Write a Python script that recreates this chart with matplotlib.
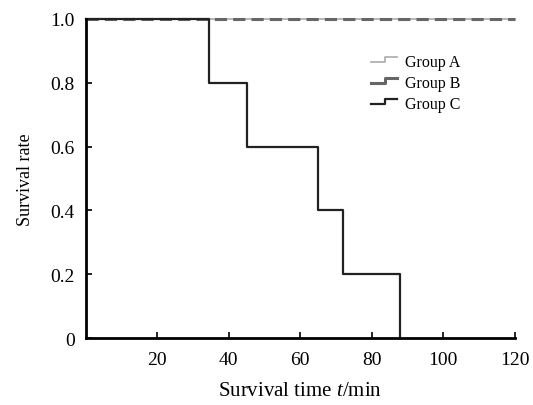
import matplotlib
matplotlib.use("Agg")
import matplotlib.pyplot as plt
from matplotlib.legend_handler import HandlerLine2D
from matplotlib.lines import Line2D

plt.rcParams['font.family'] = ['Liberation Serif', 'DejaVu Serif']
plt.rcParams['mathtext.fontset'] = 'custom'
plt.rcParams['mathtext.it'] = 'Liberation Serif:italic'
plt.rcParams['mathtext.rm'] = 'Liberation Serif'

groups = ["Group A", "Group B", "Group C"]
time_a = [0, 120]
surv_a = [1.0, 1.0]
time_b = [0, 120]
surv_b = [1.0, 1.0]
time_c = [0, 34.5, 45, 65, 72, 88]
surv_c = [1.0, 0.8, 0.6, 0.4, 0.2, 0.0]

xticks = [20, 40, 60, 80, 100, 120]
yticks = [0, 0.2, 0.4, 0.6, 0.8, 1.0]
ytick_labels = ["0", "0.2", "0.4", "0.6", "0.8", "1.0"]


class StepHandler(HandlerLine2D):
    def create_artists(self, legend, orig_handle, xdescent, ydescent,
                       width, height, fontsize, trans):
        y0 = height / 2 - ydescent - height * 0.15
        y1 = y0 + height * 0.45
        xs = [-xdescent, -xdescent + width * 0.55, -xdescent + width * 0.55, -xdescent + width]
        ys = [y0, y0, y1, y1]
        ln = Line2D(xs, ys)
        self.update_prop(ln, orig_handle, legend)
        ln.set_linestyle('-')
        ln.set_transform(trans)
        return [ln]


fig = plt.figure(figsize=(5.33, 4.06), dpi=100)
ax = fig.add_axes([0.161, 0.165, 0.805, 0.786])

la, = ax.step(time_a, surv_a, where='post', color='#aaaaaa', lw=1.2, label=groups[0], clip_on=False)
lb, = ax.step(time_b, surv_b, where='post', color='#666666', lw=2.2, ls=(0, (4, 2)), label=groups[1], clip_on=False)
lc, = ax.step(time_c, surv_c, where='post', color='#222222', lw=1.6, label=groups[2], clip_on=False)

ax.set_xlim(0, 120)
ax.set_ylim(0, 1.0)
ax.set_xticks(xticks)
ax.set_yticks(yticks)
ax.set_yticklabels(ytick_labels)
ax.tick_params(direction='in', length=4, width=1.2, labelsize=14, pad=8)
ax.tick_params(axis='x', pad=9)
for s in ['top', 'right']:
    ax.spines[s].set_visible(False)
for s in ['left', 'bottom']:
    ax.spines[s].set_linewidth(2)

ax.set_xlabel(r"Survival time $\mathit{t}$/min", fontsize=15, labelpad=10)
ax.set_ylabel("Survival rate", fontsize=13, labelpad=12)

hm = {la: StepHandler(), lb: StepHandler(), lc: StepHandler()}
ax.legend(handles=[la, lb, lc], handler_map=hm, loc='upper left',
          bbox_to_anchor=(0.632, 0.935), frameon=False, fontsize=11.5,
          handlelength=1.6, handletextpad=0.5, labelspacing=0.3)

fig.savefig("out.png", dpi=100)
